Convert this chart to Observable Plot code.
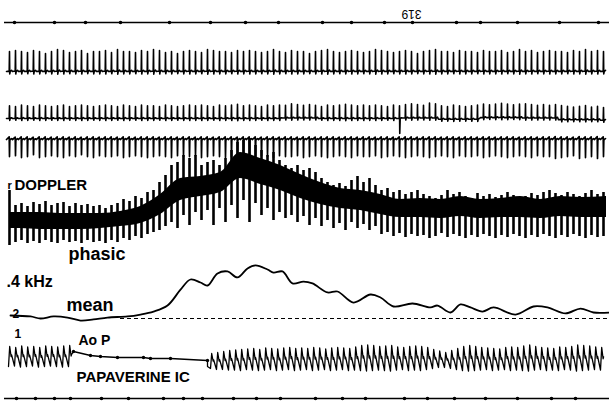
<!DOCTYPE html>
<html><head><meta charset="utf-8">
<script src="https://cdn.jsdelivr.net/npm/d3@7"></script>
<script src="https://cdn.jsdelivr.net/npm/@observablehq/plot@0.6"></script>
<style>body{margin:0;background:#fff}#chart svg{display:block;overflow:visible}</style>
</head><body><div id="chart"></div>
<script>
// ================= DATA (read from the recording) =================
const beatInterval = 0.6;   // s between heart beats
const firstBeat = 0.9;      // s, time of first beat on the strip
const stripEnd = 60.9;      // s, right edge of the strip

// ECG-like lead 1 (row 2): spike height per beat, mV
const ecgA = [1.0,1.05,1.0,0.95,1.05,1.0,0.9,1.0,1.1,1.05,0.95,1.0,1.05,0.9,1.0,1.0,1.05,0.95,1.1,1.0,
 1.0,0.95,1.05,1.0,1.1,1.05,0.95,1.0,0.9,1.0,1.05,1.0,0.95,1.1,1.05,1.0,1.0,0.95,1.05,1.0,
 1.05,1.0,0.95,1.0,1.1,1.0,0.95,1.05,1.0,1.0,0.9,1.0,1.05,1.1,1.0,0.95,1.0,1.05,1.0,0.95,
 1.0,1.1,1.05,1.0,0.95,1.0,1.05,1.0,0.9,1.0,1.05,1.1,1.0,1.0,0.95,1.05,1.0,1.0,0.95,1.05,
 1.0,1.0,1.05,0.95,1.0,1.1,1.0,1.05,0.95,1.0,1.05,1.0,1.0,0.95,1.05,1.0,1.1,1.0,1.05,1.0];
// ECG-like lead 2 (row 3): spike height per beat, mV
const ecgB = [0.85,0.8,0.9,0.85,0.8,0.9,0.85,0.8,0.85,0.9,0.8,0.85,0.9,0.85,0.8,0.85,0.9,0.85,0.8,0.9,
 0.85,0.8,0.9,0.85,0.85,0.8,0.9,0.85,0.8,0.85,0.9,0.85,0.9,0.85,0.8,0.9,0.85,0.9,0.95,0.85,
 0.9,0.85,0.8,0.9,0.85,0.9,0.85,0.95,0.9,0.85,0.9,0.85,0.8,0.9,0.85,0.9,0.95,0.9,0.85,0.9,
 0.85,0.9,0.85,0.8,0.9,0.85,0.9,0.95,0.9,0.85,1.0,0.95,0.9,0.85,0.95,0.9,0.85,0.9,0.95,0.9,
 0.85,0.9,0.95,0.9,0.85,0.9,0.95,0.9,0.85,0.9,0.85,0.9,0.95,0.9,0.85,0.9,0.95,0.85,0.9,0.85];
// baseline wander of row 3, mV, every 4 s
const ecgBWanderT = [0,4,8,12,16,20,24,28,32,36,40,44,48,52,56,60];
const ecgBWander  = [0,0,0,0,0,0,0,0.03,0,0,0.03,-0.05,0.06,0.03,-0.08,-0.12];
// one beat of row 3 with a deep negative deflection: [beat index, mV]
const ecgBDeep = [[65, -1.0]];
// ECG-like lead 3 (row 4): downward deflection per beat, mV
const ecgC = [0.9,0.85,0.95,0.9,0.8,0.95,0.9,0.85,0.9,0.95,0.85,0.9,0.8,0.9,0.95,0.85,0.9,0.9,0.85,0.95,
 0.9,0.85,0.9,0.95,0.9,0.85,0.9,0.95,0.85,0.9,0.9,0.85,0.95,0.9,0.85,0.9,0.95,0.9,0.85,0.9,
 0.95,0.9,0.85,0.9,0.95,0.85,0.9,0.9,0.85,0.95,0.9,0.85,0.9,0.95,0.9,0.85,0.9,0.95,0.85,0.9,
 0.9,0.85,0.95,0.9,0.85,0.9,0.95,0.9,0.85,0.9,0.95,0.9,0.85,0.9,0.95,0.85,0.9,0.9,0.85,0.95,
 0.9,0.85,0.9,0.95,0.9,0.85,0.9,0.95,0.85,0.9,0.9,1.0,0.95,0.9,0.85,1.0,0.95,0.9,1.0,0.9];

// DOPPLER phasic: per-beat extremes, kHz
const dopHi = [0.60,0.45,0.47,0.44,0.48,0.46,0.49,0.45,0.47,0.48,0.44,0.47,0.45,0.46,0.44,0.45,0.42,0.45,0.47,0.51,
 0.49,0.54,0.52,0.58,0.60,0.68,0.75,0.85,0.88,0.95,0.92,0.95,0.85,0.88,0.90,0.85,0.92,1.00,1.08,1.10,
 1.12,1.05,1.00,0.95,0.98,0.90,0.85,0.82,0.85,0.80,0.82,0.78,0.72,0.68,0.65,0.67,0.64,0.70,0.74,0.68,
 0.72,0.65,0.60,0.62,0.58,0.60,0.56,0.58,0.60,0.56,0.54,0.52,0.55,0.60,0.56,0.58,0.54,0.52,0.57,0.54,
 0.56,0.53,0.55,0.58,0.55,0.52,0.54,0.57,0.55,0.58,0.60,0.57,0.55,0.58,0.56,0.54,0.57,0.60,0.56,0.58];
const dopLo = [0.05,0.08,0.10,0.07,0.09,0.07,0.10,0.08,0.07,0.10,0.08,0.09,0.07,0.10,0.08,0.09,0.07,0.10,0.08,0.12,
 0.10,0.14,0.12,0.16,0.18,0.20,0.24,0.28,0.22,0.35,0.25,0.38,0.30,0.40,0.25,0.42,0.28,0.45,0.32,0.50,
 0.28,0.47,0.35,0.42,0.30,0.38,0.32,0.35,0.28,0.34,0.25,0.32,0.24,0.30,0.22,0.27,0.20,0.28,0.22,0.26,
 0.20,0.24,0.16,0.18,0.14,0.17,0.13,0.16,0.14,0.15,0.12,0.14,0.17,0.13,0.16,0.14,0.12,0.15,0.13,0.16,
 0.14,0.12,0.15,0.13,0.16,0.14,0.12,0.15,0.13,0.16,0.14,0.12,0.15,0.13,0.16,0.14,0.12,0.15,0.13,0.14];
// DOPPLER phasic: dense band (upper / lower edge), kHz, roughly every 2 s
const bodyT   = [1,2,4,6,8,10,12,14,16,18,20,22,24,26,28,30,32,34,36,38,40,42,44,46,48,50,52,54,56,58,60.6];
const bodyTop = [0.38,0.38,0.38,0.37,0.37,0.37,0.39,0.44,0.56,0.72,0.74,0.78,0.98,0.92,0.85,0.76,0.68,0.62,0.60,0.56,0.51,0.52,0.51,0.54,0.51,0.52,0.54,0.51,0.54,0.53,0.54];
const bodyBot = [0.22,0.22,0.21,0.21,0.21,0.22,0.24,0.27,0.36,0.50,0.54,0.58,0.72,0.66,0.60,0.52,0.46,0.42,0.40,0.36,0.33,0.33,0.32,0.34,0.32,0.33,0.33,0.32,0.34,0.33,0.33];

// DOPPLER mean, kHz above the zero line
const meanT   = [1.0,3.0,4.0,5.3,6.7,8.0,9.3,10.7,12.7,14.0,15.3,16.7,18.0,19.0,20.0,20.7,21.7,22.7,23.7,24.7,25.5,26.7,27.3,28.2,29.2,30.3,31.2,32.7,33.7,35.3,37.0,38.0,39.3,41.2,43.0,43.7,45.0,46.0,47.0,48.2,49.3,51.5,53.3,54.7,56.5,58.0,59.3,60.9];
const meanKHz = [0.025,0.017,0,0.017,0.008,-0.017,-0.008,0.008,0.017,0.033,0.058,0.108,0.24,0.325,0.30,0.275,0.375,0.392,0.342,0.417,0.442,0.408,0.383,0.392,0.292,0.308,0.292,0.217,0.225,0.133,0.20,0.175,0.10,0.125,0.092,0.108,0.05,0.117,0.092,0.058,0.092,0.033,0.10,0.092,0.042,0.083,0.05,0.05];
const meanZeroFrom = 12; // s, where the dashed zero line begins

// Aortic pressure, mmHg
const aoLeftSys = [124,122,125,123,124,122,125,124,123,125,126];
const aoLeftDia = [84,85,83,84,85,83,84,85,84,83,84];
const aoGapT = [7.3,9.0,10.0,11.7,14.3,15.0,17.0,20.7];          // recording during injection
const aoGapP = [114,106,104,102,102,100,100,96];
const aoRightStart = 21.0;
const aoRightSys = [110,112,114,116,117,118,119,120,118,121,120,119,121,122,120,121,
 120,122,121,119,121,122,121,120,123,126,127,126,124,125,126,123,122,124,125,124,
 122,118,115,112,116,120,124,126,124,122,121,120,119,122,123,122,125,127,124,122,
 121,120,123,122,124,127,126,125,123,122];
const aoRightDia = [80,78,78,77,77,76,78,77,76,77,78,76,77,78,76,77,
 78,76,77,78,76,77,78,76,77,76,75,76,77,76,75,77,78,76,77,76,
 78,80,82,82,80,78,76,75,76,77,78,76,77,78,76,77,76,75,77,78,
 76,77,76,78,77,75,76,77,78,77];

// time-marker channels (s)
const topMarks    = [1.4,5.4,8.5,12.0,16.9,21.0,24.5,27.8,32.2,35.1,38.4,41.2,45.6,48.0,51.7,55.9,59.8];
const bottomMarks = [1.6,3.5,5.4,7.0,10.1,12.8,16.3,18.3,20.2,23.3,25.6,28.0,31.5,34.2,36.5,40.4,42.7,45.4,48.5,51.7,55.1,57.5];

// ================= LAYOUT (chart positions, px) =================
const LY = {
  topLine: 22, bottomLine: 398,
  ecgA: {base: 71, gain: 20},
  ecgB: {base: 118, gain: 15},
  ecgC: {base: 139, gain: 19},
  dop:  {base: 250, gain: 100},
  mean: {base: 318, gain: 120},
  ao:   {base: 358, gain: 0.5, ref: 100}
};
const FONT = "Liberation Sans, Arial, Helvetica, sans-serif";

// ================= BUILD =================
const beatT = i => firstBeat + i * beatInterval;
function train(amps, shape, base, gain) {
  const pts = [];
  amps.forEach((a, i) => {
    const t = beatT(i);
    for (const [dt, f] of shape) pts.push({t: t + dt, y: base - f * a * gain});
  });
  return pts.filter(d => d.t <= stripEnd);
}
const wanderAt = t => { let k = 0; for (let j = 0; j < ecgBWanderT.length; j++) if (ecgBWanderT[j] <= t) k = j; return ecgBWander[k]; };

const rowA = train(ecgA, [[-0.3,0],[-0.03,0.02],[0,1],[0.025,-0.12],[0.07,0],[0.2,0.06]], LY.ecgA.base, LY.ecgA.gain);
const rowB = [];
ecgB.forEach((a, i) => {
  const t = beatT(i), w = wanderAt(t);
  const deep = ecgBDeep.find(d => d[0] === i);
  const shape = [[-0.3,0],[-0.03,0.02],[0,1],[0.025, deep ? deep[1] / a : -0.15],[0.07,0],[0.2,0.06]];
  for (const [dt, f] of shape) rowB.push({t: t + dt, y: LY.ecgB.base - (f * a + w) * LY.ecgB.gain});
});
const rowC = train(ecgC, [[-0.3,0],[-0.03,0.15],[0,-1],[0.03,-0.1],[0.06,0],[0.2,0.05]], LY.ecgC.base, LY.ecgC.gain);

const dopBeats = dopHi.map((h, i) => ({t: beatT(i), hi: LY.dop.base - h * LY.dop.gain, lo: LY.dop.base - dopLo[i] * LY.dop.gain}));
const dopBody = bodyT.map((t, i) => ({t, top: LY.dop.base - bodyTop[i] * LY.dop.gain, bot: LY.dop.base - bodyBot[i] * LY.dop.gain}));

const meanPts = meanT.map((t, i) => ({t, y: LY.mean.base - meanKHz[i] * LY.mean.gain}));

const aoY = p => LY.ao.base - (p - LY.ao.ref) * LY.ao.gain;
function aoBeats(sys, dia, t0) {
  const pts = [];
  sys.forEach((s, i) => {
    const t = t0 + i * beatInterval, d = dia[i], pp = s - d;
    pts.push({t, y: aoY(d)}, {t: t + 0.12, y: aoY(s)}, {t: t + 0.26, y: aoY(d + 0.5 * pp)}, {t: t + 0.31, y: aoY(d + 0.58 * pp)});
  });
  return pts.filter(d => d.t <= stripEnd);
}
const aoLeft = aoBeats(aoLeftSys, aoLeftDia, firstBeat - 0.1);
const aoGap = aoGapT.map((t, i) => ({t, y: aoY(aoGapP[i])}));
const aoRight = aoBeats(aoRightSys, aoRightDia, aoRightStart);
const aoPts = [...aoLeft, ...aoGap, {t: aoGapT[aoGapT.length-1], y: aoY(aoRightDia[0] + 4)}, ...aoRight];

const labels = [
  {text: "r", t: 0.7, y: 185, size: 11},
  {text: "DOPPLER", t: 1.4, y: 185, size: 15},
  {text: "phasic", t: 6.8, y: 254, size: 18},
  {text: ".4 kHz", t: 0.6, y: 281, size: 16},
  {text: "mean", t: 6.6, y: 305, size: 18},
  {text: "2", t: 1.2, y: 314, size: 12},
  {text: "1", t: 1.4, y: 334, size: 12},
  {text: "Ao P", t: 7.8, y: 340, size: 14},
  {text: "PAPAVERINE IC", t: 7.6, y: 377, size: 15}
];

const chart = Plot.plot({
  width: 609, height: 408,
  marginTop: 0, marginBottom: 0, marginLeft: 0, marginRight: 0,
  x: {domain: [0, stripEnd], range: [0, 609], axis: null},
  y: {domain: [0, 408], range: [0, 408], axis: null},
  style: {background: "white"},
  marks: [
    Plot.ruleY([LY.topLine], {x1: 0.4, x2: stripEnd, stroke: "black", strokeWidth: 1.6}),
    Plot.dot(topMarks, {x: d => d, y: LY.topLine, r: 1.8, fill: "black"}),
    Plot.text(["319"], {x: 41.1, y: 13, rotate: 180, fontSize: 12, fontFamily: FONT, fill: "black"}),
    Plot.ruleY([LY.bottomLine], {x1: 0.4, x2: stripEnd, stroke: "black", strokeWidth: 1.6}),
    Plot.dot(bottomMarks, {x: d => d, y: LY.bottomLine, r: 1.8, fill: "black"}),
    Plot.line(rowA, {x: "t", y: "y", stroke: "black", strokeWidth: 1.6}),
    Plot.line(rowB, {x: "t", y: "y", stroke: "black", strokeWidth: 1.6}),
    Plot.line(rowC, {x: "t", y: "y", stroke: "black", strokeWidth: 1.7}),
    Plot.areaY(dopBody, {x: "t", y1: "bot", y2: "top", fill: "#000", curve: "monotone-x"}),
    Plot.ruleX(dopBeats, {x: "t", y1: "lo", y2: "hi", stroke: "black", strokeWidth: 2.6}),
    Plot.ruleY([LY.mean.base], {x1: meanZeroFrom, x2: stripEnd, stroke: "black", strokeWidth: 1.2, strokeDasharray: "4,3"}),
    Plot.line(meanPts, {x: "t", y: "y", stroke: "black", strokeWidth: 1.8, curve: "catmull-rom"}),
    Plot.line(aoPts, {x: "t", y: "y", stroke: "black", strokeWidth: 1.3}),
    Plot.dot(aoGap, {x: "t", y: "y", r: 1.7, fill: "black"}),
    Plot.text(labels, {x: "t", y: "y", text: "text", fontSize: d => d.size, fontWeight: "bold", textAnchor: "start", lineAnchor: "middle", fontFamily: FONT, fill: "black"})
  ]
});
document.getElementById("chart").append(chart);
</script></body></html>
